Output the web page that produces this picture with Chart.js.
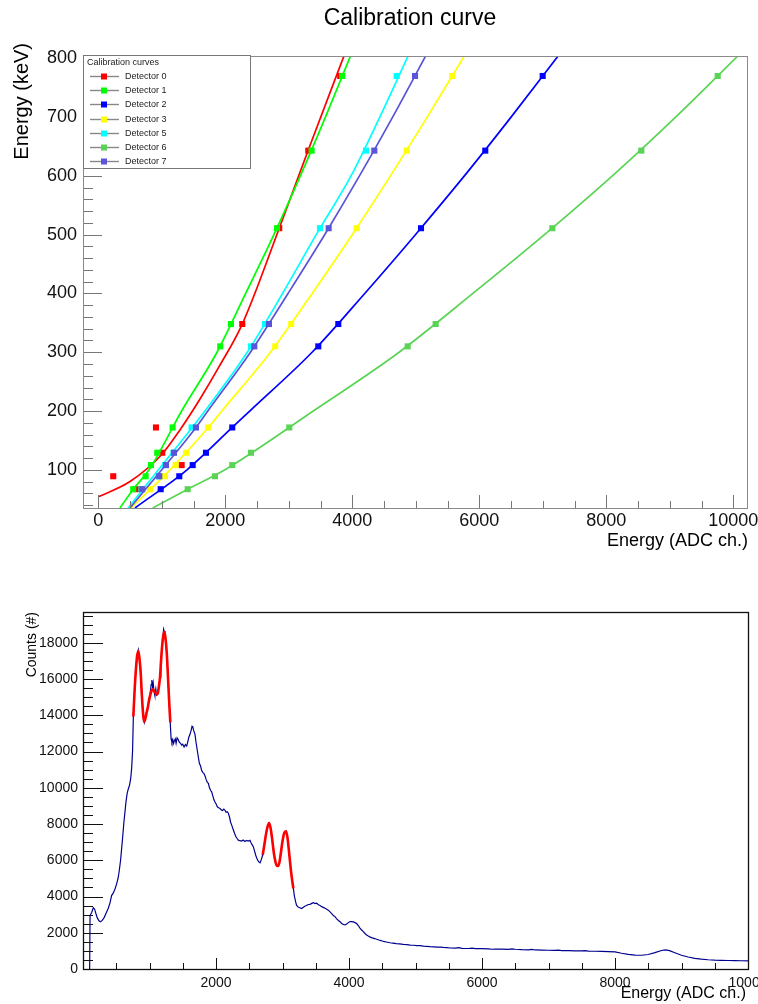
<!DOCTYPE html>
<html>
<head>
<meta charset="utf-8">
<title>Calibration curve</title>
<script src="https://cdn.jsdelivr.net/npm/chart.js@4.4.1/dist/chart.umd.min.js"></script>
<style>
  html, body { margin: 0; padding: 0; background: #fff; }
  #wrap { position: relative; width: 758px; height: 1004px; overflow: hidden; }
  .box { position: absolute; left: 0; width: 758px; }
  #calibBox { top: 0; height: 560px; }
  #specBox { top: 560px; height: 444px; }
</style>
</head>
<body>
<div id="wrap">
  <div class="box" id="calibBox"><canvas id="calib" width="758" height="560"></canvas></div>
  <div class="box" id="specBox"><canvas id="spectrum" width="758" height="444"></canvas></div>
</div>
<script>
'use strict';

var FONT = "'Liberation Sans', Arial, Helvetica, sans-serif";

// ---- calibration: [ADC channel, energy keV] ----
var detectorNames  = ['Detector 0', 'Detector 1', 'Detector 2', 'Detector 3', 'Detector 5', 'Detector 6', 'Detector 7'];
var detectorColors = ['#ff0000', '#00ff00', '#0000ff', '#ffff00', '#00ffff', '#59d454', '#5954d8'];

var det0Points = [[236, 89], [600, 67], [909, 172], [1008, 129], [1313, 108], [2268, 348], [2850, 511], [3307, 643], [3810, 770]];
var det1Points = [[551, 67], [746, 89], [830, 108], [929, 129], [1171, 172], [1921, 310], [2090, 348], [2814, 511], [3360, 643], [3843, 770]];
var det2Points = [[983, 67], [1276, 89], [1487, 108], [1696, 129], [2110, 172], [3465, 310], [3780, 348], [5082, 511], [6094, 643], [6998, 770]];
var det3Points = [[814, 67], [1050, 89], [1219, 108], [1384, 129], [1732, 172], [2787, 310], [3039, 348], [4069, 511], [4857, 643], [5575, 770]];
var det5Points = [[680, 67], [950, 89], [1055, 108], [1185, 129], [1470, 172], [2405, 310], [2625, 348], [3491, 511], [4216, 643], [4699, 770]];
var det6Points = [[1408, 67], [1838, 89], [2110, 108], [2405, 129], [3008, 172], [4872, 310], [5313, 348], [7150, 511], [8551, 643], [9754, 770]];
var det7Points = [[693, 67], [961, 89], [1066, 108], [1192, 129], [1539, 172], [2457, 310], [2688, 348], [3628, 511], [4347, 643], [4988, 770]];

// fitted calibration functions, sampled along the drawn curve
var det0Curve = [[0, 54], [500, 80], [1000, 126], [1300, 170], [1600, 220], [1900, 275], [2268, 348], [2850, 511], [3307, 644], [3890, 810]];
var det1Curve = [[342, 35], [551, 67], [800, 100], [1313, 200], [1870, 300], [2321, 400], [2766, 500], [3182, 600], [3577, 700], [3975, 805]];
var det2Curve = [[578, 35], [1398, 100], [2110, 172], [2385, 200], [3367, 300], [4196, 400], [4994, 500], [5765, 600], [6500, 700], [7248, 805]];
var det3Curve = [[515, 35], [1130, 100], [1732, 172], [1946, 200], [2711, 300], [3368, 400], [3999, 500], [4600, 600], [5179, 700], [5770, 805]];
var det5Curve = [[470, 35], [948, 100], [1480, 172], [1680, 200], [2346, 300], [2902, 400], [3432, 500], [3980, 600], [4433, 700], [4882, 805]];
var det6Curve = [[857, 35], [1408, 67], [1995, 100], [3386, 200], [4737, 300], [5899, 400], [7026, 500], [8095, 600], [9091, 700], [10080, 805]];
var det7Curve = [[499, 35], [1000, 100], [1539, 172], [1725, 200], [2396, 300], [2988, 400], [3565, 500], [4113, 600], [4635, 700], [5160, 805]];

var calibPoints = [det0Points, det1Points, det2Points, det3Points, det5Points, det6Points, det7Points];
var calibCurves = [det0Curve, det1Curve, det2Curve, det3Curve, det5Curve, det6Curve, det7Curve];

var calibXTicks = [0, 2000, 4000, 6000, 8000, 10000];
var calibYTicks = [100, 200, 300, 400, 500, 600, 700, 800];

// ---- spectrum: [ADC channel, counts] ----
var spectrumPoints = [
  [100, 0], [106, 2950], [130, 3120], [155, 3380], [175, 3300], [195, 3050], [215, 2820], [240, 2660], [262, 2610],
  [290, 2680], [320, 2850], [350, 3100], [380, 3350], [406, 3650], [430, 4050], [456, 4200], [480, 4400], [506, 4700],
  [530, 5050], [546, 5450], [565, 6000], [580, 6600], [597, 7300], [615, 8100], [632, 8700], [647, 9250], [665, 9700],
  [682, 9950], [700, 10150], [717, 10500], [732, 11100], [745, 12000], [757, 13900],
  [775, 15300], [797, 16600], [815, 17300], [832, 17600], [850, 17100], [867, 16300], [882, 15300], [897, 14400],
  [910, 13800], [922, 13600], [940, 13900], [957, 14200], [975, 14400], [992, 14850], [1010, 15200], [1025, 15700],
  [1035, 15950], [1045, 15600], [1055, 15800], [1068, 15300], [1080, 15100], [1095, 15450], [1105, 15100], [1123, 15150],
  [1140, 15600], [1158, 16100], [1170, 16800], [1183, 17500], [1200, 18200], [1212, 18750], [1220, 18650], [1233, 18400],
  [1248, 18000], [1262, 17300], [1273, 16500], [1286, 15500], [1298, 14600], [1313, 13500],
  [1325, 12700], [1338, 12500], [1350, 12650], [1362, 12450], [1375, 12600], [1388, 12700], [1400, 12450], [1415, 12750],
  [1433, 12650], [1450, 12500], [1468, 12450], [1484, 12350], [1500, 12400], [1520, 12250], [1540, 12380], [1559, 12300],
  [1575, 12520], [1592, 12800], [1609, 12950], [1625, 13150], [1640, 13400], [1652, 13350], [1665, 13150], [1684, 12950],
  [1700, 12500], [1717, 12100], [1734, 11700], [1750, 11350], [1768, 11200], [1785, 10950], [1800, 10850], [1818, 10800],
  [1835, 10650], [1852, 10450], [1870, 10300], [1885, 10250], [1902, 10000], [1920, 9850], [1935, 9780], [1952, 9550],
  [1968, 9350], [1985, 9220], [2002, 9100], [2020, 8950], [2040, 8900], [2060, 8860], [2080, 8780], [2100, 8750],
  [2118, 8820], [2135, 8760], [2152, 8650], [2170, 8680], [2185, 8600], [2202, 8400], [2220, 8100], [2240, 7900],
  [2260, 7680], [2280, 7480], [2300, 7300], [2318, 7200], [2335, 7110], [2360, 7080], [2385, 7060], [2410, 7120],
  [2435, 7040], [2460, 7090], [2485, 7060], [2511, 7100], [2528, 6950], [2545, 6850], [2561, 6750], [2580, 6500],
  [2600, 6250], [2620, 6050], [2640, 5920], [2662, 5860], [2680, 6020], [2702, 6290],
  [2725, 6800], [2750, 7400], [2775, 7850], [2797, 8050], [2820, 7800], [2845, 7150], [2870, 6400], [2895, 5900],
  [2915, 5700], [2935, 5680], [2955, 5900], [2975, 6400], [3000, 7050], [3025, 7500], [3053, 7600], [3075, 7250],
  [3100, 6400], [3125, 5500], [3145, 4900], [3163, 4450],
  [3180, 4000], [3198, 3700], [3211, 3520], [3235, 3420], [3260, 3380], [3286, 3340], [3310, 3400], [3335, 3460],
  [3360, 3500], [3388, 3560], [3414, 3570], [3440, 3620], [3465, 3660], [3490, 3610], [3514, 3630], [3540, 3550],
  [3565, 3500], [3589, 3440], [3612, 3400], [3640, 3350], [3665, 3300], [3689, 3250], [3715, 3150], [3740, 3060],
  [3765, 2950], [3789, 2890], [3812, 2780], [3840, 2680], [3865, 2610], [3890, 2510], [3915, 2460], [3940, 2430],
  [3965, 2480], [3990, 2560], [4015, 2620], [4040, 2610], [4065, 2600], [4090, 2560], [4115, 2510], [4140, 2400],
  [4165, 2260], [4190, 2150], [4215, 2060], [4240, 1960], [4265, 1880], [4290, 1820], [4320, 1760], [4350, 1720],
  [4385, 1680], [4416, 1640], [4450, 1600], [4480, 1570], [4520, 1520], [4560, 1490], [4617, 1450], [4660, 1430],
  [4710, 1400], [4760, 1390], [4817, 1360], [4870, 1350], [4920, 1320], [4970, 1310], [5018, 1290], [5070, 1285],
  [5120, 1260], [5170, 1250], [5218, 1235], [5270, 1225], [5320, 1210], [5370, 1205], [5418, 1190], [5470, 1180],
  [5519, 1160], [5600, 1150], [5650, 1175], [5700, 1140], [5800, 1130], [5850, 1150], [5900, 1125], [6000, 1120],
  [6100, 1115], [6150, 1090], [6200, 1100], [6300, 1095], [6400, 1085], [6450, 1110], [6500, 1090], [6600, 1070],
  [6700, 1060], [6750, 1080], [6800, 1050], [6900, 1040], [7000, 1035], [7100, 1025], [7150, 1045], [7200, 1015],
  [7300, 1010], [7400, 1000], [7500, 995], [7550, 1015], [7600, 985], [7700, 980], [7800, 970], [7900, 960],
  [8000, 940], [8100, 870], [8200, 810], [8300, 770], [8400, 760], [8500, 800], [8600, 900], [8700, 1020],
  [8760, 1060], [8820, 1010], [8900, 900], [9000, 760], [9100, 660], [9200, 590], [9300, 540], [9400, 510],
  [9500, 490], [9600, 480], [9700, 470], [9800, 465], [9900, 455], [10000, 450]
];

// gaussian fits over the two peak groups
var fitLowPoints = [
  [757, 13930], [775, 15300], [797, 16600], [815, 17300], [832, 17550], [850, 17100], [867, 16400], [882, 15300],
  [897, 14400], [910, 13850], [922, 13650], [940, 13850], [957, 14150], [975, 14450], [992, 14800], [1010, 15100],
  [1030, 15350], [1048, 15450], [1068, 15350], [1087, 15250], [1105, 15150], [1123, 15200], [1140, 15550], [1158, 16100],
  [1170, 16800], [1183, 17500], [1200, 18200], [1218, 18600], [1233, 18450], [1248, 18000], [1262, 17300], [1273, 16500],
  [1286, 15500], [1298, 14600], [1313, 13600]
];
var fitHighPoints = [
  [2702, 6290], [2725, 6800], [2750, 7400], [2775, 7850], [2797, 8050], [2820, 7800], [2845, 7150], [2870, 6400],
  [2895, 5900], [2915, 5700], [2935, 5680], [2955, 5900], [2975, 6400], [3000, 7050], [3025, 7500], [3053, 7600],
  [3075, 7250], [3100, 6400], [3125, 5500], [3145, 4900], [3163, 4450]
];

var specXTicks = [2000, 4000, 6000, 8000, 10000];
var specYTicks = [0, 2000, 4000, 6000, 8000, 10000, 12000, 14000, 16000, 18000];

function toXY(pairs) {
  return pairs.map(function (p) { return { x: p[0], y: p[1] }; });
}

function fixedTicks(list) {
  return function (scale) {
    scale.ticks = list.map(function (v) { return { value: v }; });
  };
}

function fixedSize(prop, size) {
  return function (scale) {
    scale[prop] = size;
    scale.paddingLeft = 0;
    scale.paddingRight = 0;
    scale.paddingTop = 0;
    scale.paddingBottom = 0;
  };
}

// frame, inward ticks, titles and legend drawn over the plot area
var rootFrame = {
  id: 'rootFrame',
  afterDraw: function (chart, args, o) {
    var ctx = chart.ctx, a = chart.chartArea;
    var xs = chart.scales.x, ys = chart.scales.y;
    var v, p, len;
    ctx.save();

    ctx.strokeStyle = o.tickColor;
    ctx.lineWidth = 1;
    ctx.beginPath();
    for (v = o.xTickFrom; v <= xs.max; v += o.xMinor) {
      p = Math.round(xs.getPixelForValue(v)) + 0.5;
      if (p < a.left || p > a.right) continue;
      len = (v % o.xMajor === 0) ? o.xMajorLen : o.xMinorLen;
      ctx.moveTo(p, a.bottom);
      ctx.lineTo(p, a.bottom - len);
    }
    for (v = o.yTickFrom; v <= ys.max; v += o.yMinor) {
      p = Math.round(ys.getPixelForValue(v)) + 0.5;
      if (p < a.top || p > a.bottom) continue;
      len = (v % o.yMajor === 0) ? o.yMajorLen : o.yMinorLen;
      ctx.moveTo(a.left, p);
      ctx.lineTo(a.left + len, p);
    }
    ctx.stroke();

    ctx.strokeStyle = o.frameColor;
    ctx.lineWidth = o.frameWidth;
    ctx.strokeRect(Math.round(a.left) + 0.5, Math.round(a.top) + 0.5,
                   Math.round(a.right - a.left), Math.round(a.bottom - a.top));

    ctx.fillStyle = '#000';
    ctx.textBaseline = 'middle';
    (o.titles || []).forEach(function (t) {
      ctx.save();
      ctx.font = t.size + 'px ' + FONT;
      ctx.textAlign = t.align;
      ctx.translate(t.x, t.y);
      if (t.rotate) ctx.rotate(-Math.PI / 2);
      ctx.fillText(t.text, 0, 0);
      ctx.restore();
    });

    if (o.legend) drawLegend(chart, ctx, o.legend);
    ctx.restore();
  }
};

function drawLegend(chart, ctx, lg) {
  ctx.fillStyle = '#fff';
  ctx.fillRect(lg.x, lg.y, lg.w, lg.h);
  ctx.strokeStyle = '#777';
  ctx.lineWidth = 1;
  ctx.strokeRect(lg.x + 0.5, lg.y + 0.5, lg.w, lg.h);
  ctx.font = lg.size + 'px ' + FONT;
  ctx.textAlign = 'left';
  ctx.textBaseline = 'middle';
  ctx.fillStyle = '#222';
  ctx.fillText(lg.title, lg.x + 4, lg.y + 8);
  lg.labels.forEach(function (label, i) {
    var y = Math.round(lg.y + lg.firstRow + i * lg.rowStep) + 0.5;
    ctx.strokeStyle = '#888';
    ctx.lineWidth = 1.4;
    ctx.beginPath();
    ctx.moveTo(lg.x + 7, y);
    ctx.lineTo(lg.x + 36, y);
    ctx.stroke();
    ctx.fillStyle = lg.colors[i];
    ctx.fillRect(lg.x + 18, y - 3, 6, 6);
    ctx.fillStyle = '#222';
    ctx.fillText(label, lg.x + 42, y);
  });
}

Chart.register(rootFrame);

// ---------- calibration curves ----------
var calibSets = [];
detectorNames.forEach(function (name, i) {
  calibSets.push({
    label: name,
    data: toXY(calibCurves[i]),
    showLine: true,
    borderColor: detectorColors[i],
    borderWidth: 1.7,
    pointRadius: 0,
    cubicInterpolationMode: 'monotone',
    clip: 0,
    order: 100 - i * 2
  });
  calibSets.push({
    label: name + ' points',
    data: toXY(calibPoints[i]),
    showLine: false,
    backgroundColor: detectorColors[i],
    borderColor: detectorColors[i],
    borderWidth: 0,
    pointStyle: 'rect',
    pointRadius: 4.3,
    order: 99 - i * 2
  });
});

new Chart(document.getElementById('calib'), {
  type: 'scatter',
  data: { datasets: calibSets },
  options: {
    responsive: false,
    animation: false,
    layout: { padding: { top: 56, right: 11, left: 0, bottom: 0 } },
    scales: {
      x: {
        type: 'linear', min: -240, max: 10215,
        grid: { display: false, drawTicks: false },
        border: { display: false },
        afterBuildTicks: fixedTicks(calibXTicks),
        afterFit: fixedSize('height', 52),
        ticks: {
          autoSkip: false, maxRotation: 0, padding: 2, color: '#111',
          font: { family: FONT, size: 18 },
          callback: function (v) { return String(v); }
        }
      },
      y: {
        type: 'linear', min: 35, max: 804,
        grid: { display: false, drawTicks: false },
        border: { display: false },
        afterBuildTicks: fixedTicks(calibYTicks),
        afterFit: fixedSize('width', 83),
        ticks: {
          autoSkip: false, padding: 6, color: '#111',
          font: { family: FONT, size: 18 },
          callback: function (v) { return String(v); }
        }
      }
    },
    plugins: {
      legend: { display: false },
      tooltip: { enabled: false },
      rootFrame: {
        tickColor: '#777', frameColor: '#8a8a8a', frameWidth: 1,
        xTickFrom: 0, xMinor: 500, xMajor: 2000, xMajorLen: 13, xMinorLen: 7,
        yTickFrom: 40, yMinor: 20, yMajor: 100, yMajorLen: 19, yMinorLen: 10,
        titles: [
          { text: 'Calibration curve', x: 410, y: 19, size: 23, align: 'center' },
          { text: 'Energy (keV)', x: 22, y: 43, size: 20, align: 'right', rotate: true },
          { text: 'Energy (ADC ch.)', x: 748, y: 541, size: 18, align: 'right' }
        ],
        legend: {
          x: 83, y: 55, w: 167, h: 113, size: 9,
          title: 'Calibration curves', firstRow: 21, rowStep: 14.2,
          labels: detectorNames, colors: detectorColors
        }
      }
    }
  }
});

// ---------- energy spectrum ----------
new Chart(document.getElementById('spectrum'), {
  type: 'scatter',
  data: {
    datasets: [
      {
        label: 'Fit low',
        data: toXY(fitLowPoints),
        showLine: true, borderColor: '#ff0000', borderWidth: 2.6,
        pointRadius: 0, cubicInterpolationMode: 'monotone', order: 0
      },
      {
        label: 'Fit high',
        data: toXY(fitHighPoints),
        showLine: true, borderColor: '#ff0000', borderWidth: 2.6,
        pointRadius: 0, cubicInterpolationMode: 'monotone', order: 1
      },
      {
        label: 'Spectrum',
        data: toXY(spectrumPoints),
        showLine: true, borderColor: '#00008f', borderWidth: 1.2,
        pointRadius: 0, tension: 0, order: 2
      }
    ]
  },
  options: {
    responsive: false,
    animation: false,
    layout: { padding: { top: 52, right: 10, left: 0, bottom: 0 } },
    scales: {
      x: {
        type: 'linear', min: 0, max: 10000,
        grid: { display: false, drawTicks: false },
        border: { display: false },
        afterBuildTicks: fixedTicks(specXTicks),
        afterFit: fixedSize('height', 35),
        ticks: {
          autoSkip: false, maxRotation: 0, padding: 6, color: '#111',
          font: { family: FONT, size: 14 },
          callback: function (v) { return String(v); }
        }
      },
      y: {
        type: 'linear', min: 0, max: 19700,
        grid: { display: false, drawTicks: false },
        border: { display: false },
        afterBuildTicks: fixedTicks(specYTicks),
        afterFit: fixedSize('width', 83),
        ticks: {
          autoSkip: false, padding: 5, color: '#111',
          font: { family: FONT, size: 14 },
          callback: function (v) { return String(v); }
        }
      }
    },
    plugins: {
      legend: { display: false },
      tooltip: { enabled: false },
      rootFrame: {
        tickColor: '#111', frameColor: '#111', frameWidth: 1.3,
        xTickFrom: 0, xMinor: 500, xMajor: 2000, xMajorLen: 11, xMinorLen: 6,
        yTickFrom: 0, yMinor: 500, yMajor: 2000, yMajorLen: 20, yMinorLen: 10,
        titles: [
          { text: 'Counts (#)', x: 32, y: 52, size: 14, align: 'right', rotate: true },
          { text: 'Energy (ADC ch.)', x: 746, y: 434, size: 16, align: 'right' }
        ]
      }
    }
  }
});
</script>
</body>
</html>
